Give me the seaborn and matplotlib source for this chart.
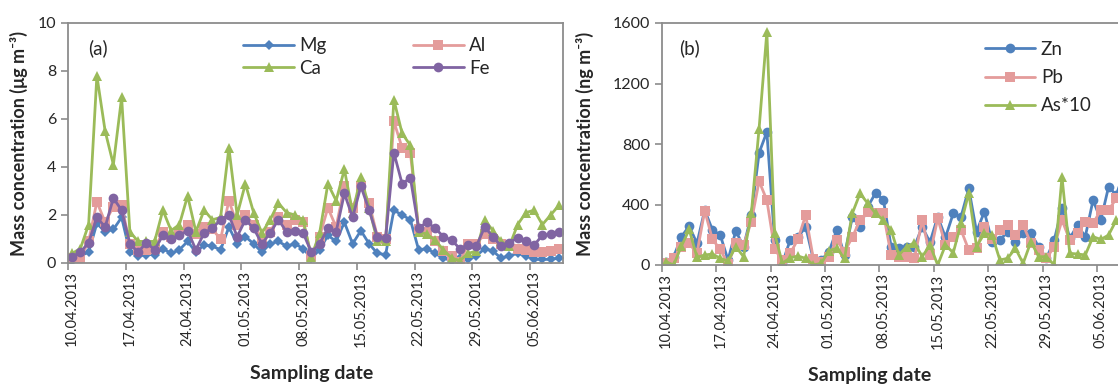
import numpy as np
import pandas as pd
import matplotlib
matplotlib.use("Agg")
import matplotlib.pyplot as plt
import seaborn as sns

# daily samples 10.04.2013 - 08.06.2013 ---------------------------------------
dates = pd.date_range("2013-04-10", "2013-06-08", freq="D")
tick_dates = dates[::7]
tick_labels = [d.strftime("%d.%m.%Y") for d in tick_dates]

# (a) major elements, ug m-3
mg = [0.1, 0.3, 0.45, 1.65, 1.3, 1.4, 1.9, 0.45, 0.3, 0.35,
      0.35, 0.6, 0.4, 0.55, 0.9, 0.45, 0.75, 0.7, 0.55, 1.5,
      0.8, 1.1, 0.8, 0.45, 0.8, 0.9, 0.7, 0.8, 0.6, 0.2,
      0.55, 1.15, 0.9, 1.7, 0.8, 1.35, 0.8, 0.4, 0.35, 2.2,
      2.0, 1.8, 0.55, 0.6, 0.4, 0.2, 0.1, 0.2, 0.15, 0.3,
      0.6, 0.5, 0.2, 0.3, 0.4, 0.3, 0.15, 0.15, 0.15, 0.2]
al = [0.2, 0.2, 0.9, 2.55, 1.7, 2.35, 2.4, 0.8, 0.55, 0.55,
      0.6, 1.3, 1.1, 1.3, 1.6, 1.2, 1.5, 1.4, 1.0, 2.6,
      1.6, 2.0, 1.6, 1.0, 1.3, 1.9, 1.6, 1.8, 1.7, 0.3,
      1.1, 2.3, 1.5, 3.2, 2.3, 3.2, 2.5, 1.1, 1.0, 5.9,
      4.8, 4.6, 1.4, 1.3, 0.9, 0.5, 0.3, 0.05, 0.8, 0.8,
      1.2, 1.0, 0.8, 0.7, 0.6, 0.55, 0.45, 0.45, 0.5, 0.6]
ca = [0.4, 0.6, 1.6, 7.8, 5.5, 4.1, 6.9, 1.3, 0.9, 0.9,
      0.9, 2.2, 1.35, 1.6, 2.8, 1.3, 2.2, 1.8, 1.9, 4.8,
      2.0, 3.3, 2.1, 1.25, 1.8, 2.5, 2.1, 2.0, 1.8, 0.25,
      1.25, 3.3, 2.6, 3.9, 2.1, 3.6, 2.3, 0.9, 0.9, 6.8,
      5.4, 4.9, 1.3, 1.2, 0.95, 0.55, 0.2, 0.1, 0.4, 0.5,
      1.8, 1.35, 0.9, 0.7, 1.6, 2.1, 2.2, 1.6, 2.0, 2.4]
fe = [0.25, 0.45, 0.85, 1.9, 1.5, 2.7, 2.2, 0.8, 0.45, 0.85,
      0.55, 1.15, 1.0, 1.15, 1.35, 0.55, 1.25, 1.45, 1.8, 2.0,
      1.1, 1.8, 1.45, 0.8, 1.25, 1.8, 1.3, 1.35, 1.25, 0.45,
      0.8, 1.45, 1.3, 2.9, 1.9, 3.2, 2.2, 1.1, 1.05, 4.6,
      3.3, 3.55, 1.45, 1.7, 1.45, 1.1, 0.95, 0.6, 0.75, 0.7,
      1.5, 1.1, 0.7, 0.85, 1.05, 0.9, 0.75, 1.15, 1.2, 1.3]

# (b) trace elements, ng m-3
zn = [22, 55, 187, 257, 143, 363, 231, 198, 33, 226,
      121, 330, 741, 880, 165, 11, 165, 183, 253, 33,
      33, 88, 231, 66, 315, 253, 385, 477, 433, 121,
      110, 121, 121, 253, 150, 319, 183, 341, 319, 506,
      220, 352, 154, 165, 220, 154, 209, 209, 121, 44,
      165, 374, 176, 264, 187, 429, 297, 517, 462, 620]
pb = [11, 44, 121, 143, 77, 359, 169, 103, 5, 143,
      132, 286, 554, 429, 103, 33, 77, 169, 330, 37,
      22, 55, 165, 88, 183, 297, 352, 341, 341, 66,
      55, 51, 44, 297, 66, 308, 132, 187, 231, 99,
      110, 253, 169, 231, 264, 198, 264, 143, 99, 44,
      121, 297, 165, 209, 286, 275, 363, 363, 440, 500]
as10 = [22, 0, 125, 235, 51, 66, 73, 44, 26, 121,
        55, 341, 902, 1540, 209, 11, 48, 59, 44, 0,
        11, 95, 110, 44, 341, 473, 407, 341, 297, 231,
        66, 121, 147, 55, 132, 0, 132, 81, 275, 477,
        121, 209, 198, 33, 44, 110, 11, 154, 55, 55,
        0, 583, 77, 73, 66, 187, 169, 198, 297, 300]

BLUE, PINK, GREEN, PURPLE = "#4F81BD", "#E49C9B", "#9BBB59", "#8064A2"
GRAY = "#8C8C8C"

sns.set_theme(style="white")
plt.rcParams["font.family"] = ["Lato", "DejaVu Sans"]

fig = plt.figure(figsize=(11.18, 3.88), dpi=100)
ax1 = fig.add_axes([68 / 1118, 125 / 388, 495 / 1118, 240 / 388])
ax2 = fig.add_axes([662 / 1118, 123 / 388, 466 / 1118, 242 / 388])


def draw(ax, y, color, marker, ms, label):
    sns.lineplot(x=dates, y=y, ax=ax, color=color, marker=marker,
                 markersize=ms, markeredgewidth=0, linewidth=2.0, label=label)


draw(ax1, mg, BLUE, "D", 5.5, "Mg")
draw(ax1, al, PINK, "s", 6.5, "Al")
draw(ax1, ca, GREEN, "^", 7, "Ca")
draw(ax1, fe, PURPLE, "o", 7, "Fe")

draw(ax2, zn, BLUE, "o", 7, "Zn")
draw(ax2, pb, PINK, "s", 6.5, "Pb")
draw(ax2, as10, GREEN, "^", 7, "As*10")

half = pd.Timedelta(hours=12)
for ax in (ax1, ax2):
    ax.set_xlim(dates[0] - half, dates[-1] + half)
    ax.set_xticks(tick_dates)
    ax.set_xticklabels(tick_labels, rotation=90, fontsize=10.5)
    ax.set_xticks(tick_dates - half, minor=True)
    ax.tick_params(axis="x", which="major", length=0, pad=6)
    ax.tick_params(axis="x", which="minor", bottom=True, length=5,
                   color=GRAY, width=1.2, direction="out")
    ax.tick_params(axis="y", left=True, length=5, color=GRAY, width=1.2,
                   direction="out", labelsize=11.5)
    for s in ax.spines.values():
        s.set_color(GRAY)
        s.set_linewidth(1.3)
    ax.grid(False)

ax1.set_ylim(0, 10)
ax1.set_yticks(np.arange(0, 11, 2))
ax2.set_ylim(0, 1600)
ax2.set_yticks(np.arange(0, 1601, 400))

ax1.set_ylabel("Mass concentration (\u03bcg m\u207b\u00b3)", fontsize=13, fontweight="bold")
ax2.set_ylabel("Mass concentration (ng m\u207b\u00b3)", fontsize=13, fontweight="bold")
ax1.set_xlabel("Sampling date", fontsize=14, fontweight="bold")
ax2.set_xlabel("Sampling date", fontsize=14, fontweight="bold")
ax1.yaxis.set_label_coords(-0.08, 0.5)
ax2.yaxis.set_label_coords(-0.145, 0.5)
ax1.xaxis.set_label_coords(0.493, -0.425)
ax2.xaxis.set_label_coords(0.446, -0.42)

ax1.text(0.06, 0.896, "(a)", transform=ax1.transAxes, fontsize=13.5,
         ha="center", va="center")
ax2.text(0.06, 0.897, "(b)", transform=ax2.transAxes, fontsize=13.5,
         ha="center", va="center")

# legend (a): two columns, Mg/Ca then Al/Fe
h, l = ax1.get_legend_handles_labels()
order = [0, 2, 1, 3]
ax1.legend([h[i] for i in order], [l[i] for i in order],
           loc="upper left", bbox_to_anchor=(0.335, 0.98), ncol=2,
           frameon=False, fontsize=13.5, handlelength=2.7, handletextpad=0.3,
           columnspacing=4.6, labelspacing=0.3, borderpad=0)
ax2.legend(loc="upper left", bbox_to_anchor=(0.672, 0.965),
           frameon=False, fontsize=13.5, handlelength=2.7, handletextpad=0.3,
           labelspacing=0.6, borderpad=0)

fig.savefig("out.png", dpi=100)
